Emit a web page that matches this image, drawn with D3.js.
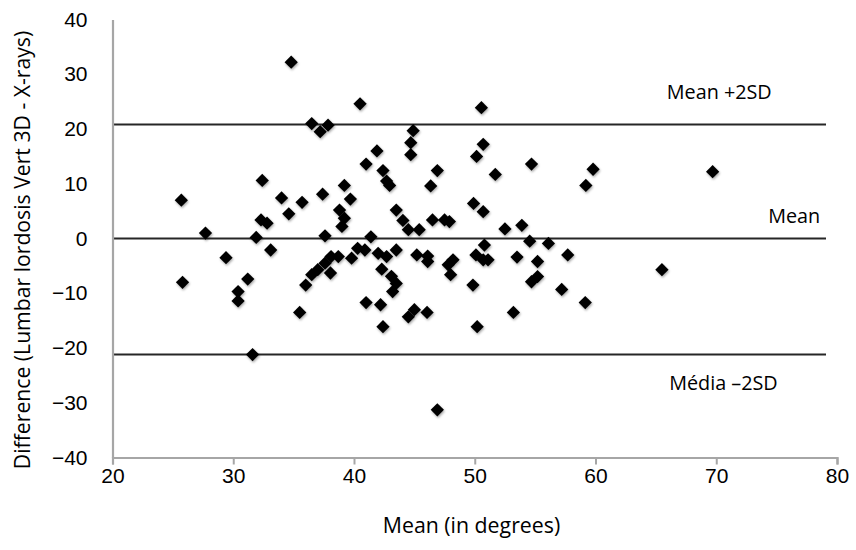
<!DOCTYPE html>
<html>
<head>
<meta charset="utf-8">
<script src="https://cdn.jsdelivr.net/npm/d3@7"></script>
<style>
  html, body { margin: 0; padding: 0; background: #fff; }
  svg { display: block; font-family: "Open Sans", "Noto Sans", sans-serif; }
</style>
</head>
<body>
<svg id="chart" width="856" height="550"></svg>
<script>
// ---- Data ----
const meanValues = [
  25.7, 25.8, 27.7, 29.4, 30.4, 30.4, 31.2, 31.6, 31.9, 32.3, 32.8, 32.4, 33.1, 34.0, 34.6, 34.8,
  35.5, 35.7, 36.0, 36.5, 37.2, 37.85, 36.5, 37.0, 37.4, 37.6, 37.6, 38.1, 38.7, 38.05, 38.8, 39.2,
  39.0, 39.2, 39.7, 39.8, 40.3, 40.9, 40.5, 41.0, 41.4, 41.0, 41.9, 42.0, 42.2, 42.3, 42.4, 42.4,
  42.7, 42.95, 42.7, 43.1, 43.2, 43.5, 43.5, 43.5, 44.05, 44.5, 45.4, 44.5, 44.7, 44.7, 44.9, 45.0,
  45.2, 46.05, 46.1, 46.1, 46.35, 46.5, 46.9, 46.9, 47.5, 47.9, 47.8, 48.2, 48.0, 49.85, 49.9, 50.15,
  50.2, 50.55, 50.7, 50.7, 50.1, 50.7, 51.1, 50.8, 51.7, 52.5, 53.2, 53.5, 53.9, 54.55, 54.7, 54.7,
  55.2, 55.2, 56.1, 57.2, 57.7, 59.15, 59.2, 59.8, 65.5, 69.7
];
const diffValues = [
  7.0, -8.0, 1.0, -3.5, -9.7, -11.4, -7.4, -21.2, 0.2, 3.4, 2.8, 10.6, -2.1, 7.4, 4.5, 32.2,
  -13.5, 6.6, -8.5, 21.0, 19.5, 20.7, -6.6, -5.7, 8.1, 0.5, -4.5, -3.3, -3.3, -6.3, 5.2, 3.7,
  2.2, 9.7, 7.2, -3.6, -1.8, -2.1, 24.6, 13.6, 0.3, -11.7, 16.0, -2.7, -12.1, -5.6, 12.4, -16.1,
  10.5, 9.7, -3.3, -6.9, -9.7, -8.2, 5.2, -2.1, 3.3, 1.6, 1.6, -14.3, 15.3, 17.5, 19.7, -13.0,
  -3.0, -13.5, -3.2, -4.2, 9.6, 3.4, 12.4, -31.3, 3.4, 3.1, -4.8, -3.9, -6.6, -8.5, 6.4, 15.0,
  -16.1, 23.9, 17.2, 4.9, -3.0, -3.9, -3.9, -1.2, 11.7, 1.75, -13.5, -3.4, 2.4, -0.5, 13.6, -7.9,
  -6.95, -4.2, -0.9, -9.3, -3.0, -11.7, 9.7, 12.65, -5.7, 12.2
];
const refLineValues = [20.8, 0, -21.2];
const refLineLabels = ["Mean +2SD", "Mean", "Média \u20132SD"];
const xTickValues = [20, 30, 40, 50, 60, 70, 80];
const yTickValues = [40, 30, 20, 10, 0, -10, -20, -30, -40];
const xTitle = "Mean (in degrees)";
const yTitle = "Difference (Lumbar lordosis Vert 3D - X-rays)";

// ---- Layout ----
const svg = d3.select("#chart");
const plot = { left: 112.5, right: 837, top: 19.5, bottom: 457.5 };
const x = d3.scaleLinear().domain([20, 80]).range([plot.left, plot.right]);
const y = d3.scaleLinear().domain([-40, 40]).range([plot.bottom, plot.top]);
const axisColor = "#a6a6a6";

// drop-shadow for markers
const defs = svg.append("defs");
const f = defs.append("filter").attr("id", "shadow").attr("x", "-50%").attr("y", "-50%").attr("width", "200%").attr("height", "200%");
f.append("feDropShadow").attr("dx", 0.8).attr("dy", 1.5).attr("stdDeviation", 1.2).attr("flood-color", "#000").attr("flood-opacity", 0.35);

// reference lines
const refEnd = 826;
svg.append("g").selectAll("line").data(refLineValues).join("line")
  .attr("x1", plot.left).attr("x2", refEnd)
  .attr("y1", d => y(d)).attr("y2", d => y(d))
  .attr("stroke", "#262626").attr("stroke-width", 2);

// reference labels
const labelPos = [
  { x: 65.9, dy: -25.5 },
  { x: 74.3, dy: -15.5 },
  { x: 66.1, dy: 35 }
];
svg.append("g").selectAll("text").data(refLineValues).join("text")
  .attr("x", (d, i) => x(labelPos[i].x))
  .attr("y", (d, i) => y(d) + labelPos[i].dy)
  .attr("font-size", 19.8).attr("fill", "#000")
  .text((d, i) => refLineLabels[i]);

// x axis
const gx = svg.append("g").attr("transform", `translate(0,${plot.bottom})`)
  .call(d3.axisBottom(x).tickValues(xTickValues).tickSize(7).tickPadding(4).tickFormat(d3.format("d")));
gx.select(".domain").attr("stroke", axisColor).attr("stroke-width", 2.2);
gx.selectAll(".tick line").attr("stroke", axisColor).attr("stroke-width", 2);
gx.selectAll(".tick text").attr("font-size", 21).attr("fill", "#000").attr("font-family", "inherit");

// y axis
const gy = svg.append("g").attr("transform", `translate(${plot.left},0)`)
  .call(d3.axisLeft(y).tickValues(yTickValues).tickSize(0).tickPadding(25).tickFormat(d3.format("d")));
gy.select(".domain").attr("stroke", axisColor).attr("stroke-width", 2.2);
gy.selectAll(".tick text").attr("font-size", 21).attr("fill", "#000").attr("font-family", "inherit");

// points
svg.append("g").attr("filter", "url(#shadow)").selectAll("path").data(meanValues).join("path")
  .attr("d", d3.symbol(d3.symbolSquare, 88))
  .attr("transform", (d, i) => `translate(${x(d)},${y(diffValues[i])}) rotate(45)`)
  .attr("fill", "#000");

// titles
svg.append("text").attr("x", 471.5).attr("y", 533)
  .attr("text-anchor", "middle").attr("font-size", 21.3).attr("fill", "#000").text(xTitle);
svg.append("text").attr("transform", `translate(30,250) rotate(-90)`)
  .attr("text-anchor", "middle").attr("font-size", 21.2).attr("fill", "#000").text(yTitle);
</script>
</body>
</html>
